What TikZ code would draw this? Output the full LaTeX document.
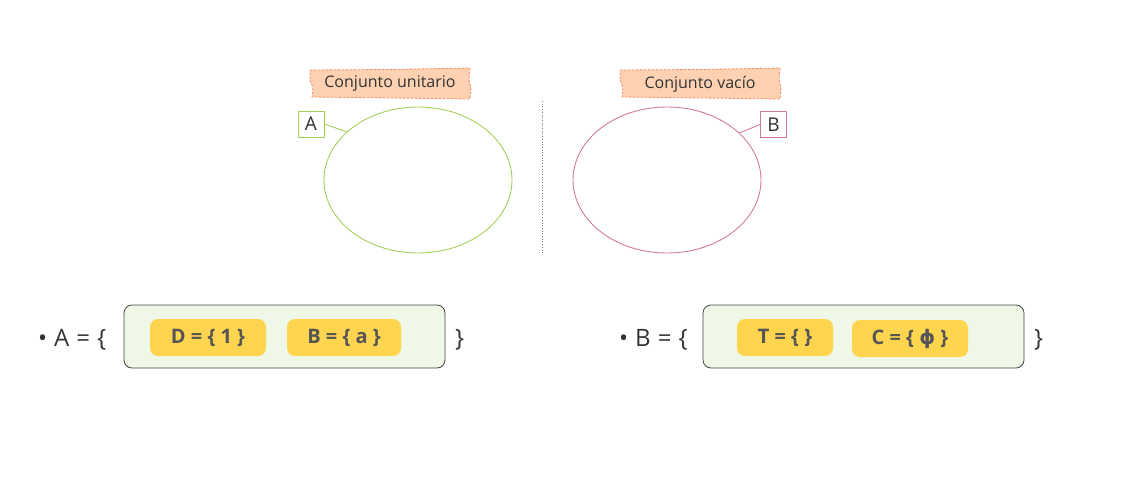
\documentclass[tikz,border=0pt]{standalone}
\usepackage{fontspec}
\usetikzlibrary{shapes.geometric}
\setmainfont{Open Sans}
\newfontfamily\symfont{DejaVu Sans}
\definecolor{tagfill}{HTML}{FFD1B3}
\definecolor{tagdraw}{HTML}{F58A63}
\definecolor{grn}{HTML}{A6CE5A}
\definecolor{pnk}{HTML}{D27B98}
\definecolor{boxfill}{HTML}{EFF7E6}
\definecolor{boxdraw}{HTML}{444444}
\definecolor{pill}{HTML}{FFD54F}
\definecolor{pilltext}{HTML}{555555}
\definecolor{txt}{HTML}{333333}
\begin{document}
\begin{tikzpicture}[x=1pt,y=-1pt,
  tagtext/.style={font=\fontsize{16}{18}\selectfont, text=txt},
  setlabel/.style={draw=#1, fill=white, line width=0.9pt, minimum width=26pt, minimum height=26pt, inner sep=0pt, font=\fontsize{19}{21}\selectfont, text=txt},
  setoval/.style={draw=#1, ellipse, line width=0.9pt, minimum width=188pt, minimum height=146pt, inner sep=0pt},
  outerbox/.style={draw=boxdraw, fill=boxfill, rounded corners=8pt, line width=0.8pt, minimum width=321pt, minimum height=63pt},
  pillbox/.style={fill=pill, rounded corners=8pt, minimum height=37pt, inner sep=0pt, font=\bfseries\fontsize{20}{22}\selectfont, text=pilltext},
  eqtext/.style={font=\fontsize{24}{26}\selectfont, text=txt, anchor=west, inner sep=0pt},
]
\useasboundingbox (0,0) rectangle (1127,480);
% tags
\foreach \ox in {0,310}{
  \begin{scope}[xshift=\ox pt]
  \filldraw[fill=tagfill, draw=tagdraw, dash pattern=on 2.5pt off 1.5pt, line width=0.8pt]
    (310,70) -- (390,69.5) -- (470,68) -- (469,80) -- (471,88) -- (470,99) -- (390,98) -- (312,97) -- (313,88) -- (310,80) -- cycle;
  \end{scope}
}
\node[tagtext] (t1) at (390,84) {Conjunto unitario};
\node[tagtext] (t2) at (700,84) {Conjunto vacío};
% ellipses
\node[setoval=grn] (e1) at (418,180) {};
\node[setoval=pnk] (e2) at (667,180) {};
\node[setlabel=grn] (A) at (311,124) {A};
\node[setlabel=pnk] (B) at (773.5,124.5) {B};
\draw[grn, line width=0.9pt] (A.east) -- (e1.146);
\draw[pnk, line width=0.9pt] (B.west) -- (e2.33);
% divider
\coordinate (d1) at (542,101);
\coordinate (d2) at (542,254);
\draw[gray, dotted, line width=0.7pt] (d1) -- (d2);
% bottom left
\node[eqtext] (eqA) at (38,340) {\textbullet\hspace{7pt}A\hspace{7pt}=\hspace{7pt}\{};
\node[outerbox] (boxA) at (284.5,336.5) {};
\node[pillbox, minimum width=116pt] (pD) at (208,337.5) {D = \{ 1 \}};
\node[pillbox, minimum width=114pt] (pB) at (344,337.5) {B = \{ a \}};
\node[eqtext] (cA) at (455,340) {\}};
% bottom right
\node[eqtext] (eqB) at (619,340) {\textbullet\hspace{7pt}B\hspace{7pt}=\hspace{7pt}\{};
\node[outerbox] (boxB) at (863.5,336.5) {};
\node[pillbox, minimum width=96pt] (pT) at (785,337.5) {T = \{ \}};
\node[pillbox, minimum width=116pt] (pC) at (910,338.5) {C = \{ {\symfont\bfseries ϕ} \}};
\node[eqtext] (cB) at (1034,340) {\}};
\end{tikzpicture}
\end{document}
